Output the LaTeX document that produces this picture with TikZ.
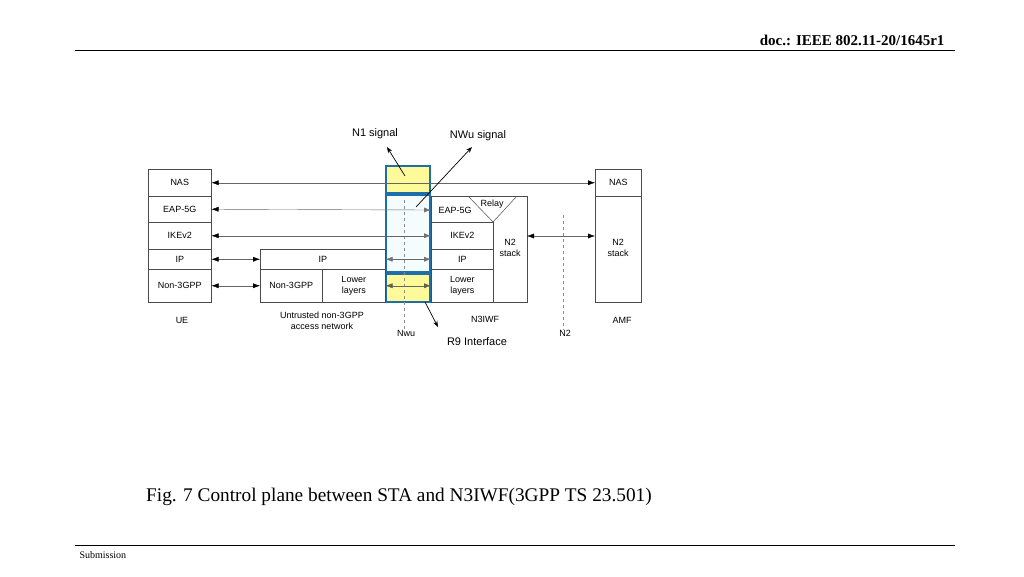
\documentclass[tikz,border=0pt]{standalone}
\usepackage{fontspec}
\setmainfont{Liberation Serif}
\newfontfamily\dg{Liberation Sans}
\usetikzlibrary{arrows.meta}
\begin{document}
\begin{tikzpicture}[x=1pt,y=-1pt,
 bx/.style={draw=black!70,line width=0.5pt,fill=white},
 lb/.style={font=\dg\fontsize{9}{10.5}\selectfont,align=center},
 ar/.style={line width=0.4pt,draw=black!60,{Latex[length=7pt,width=5pt,black]}-{Latex[length=7pt,width=5pt,black]}},
 ag/.style={line width=0.4pt,draw=black!60,{Latex[length=7pt,width=5pt,black]}-{Latex[length=7pt,width=5pt,black!55]}},
 gg/.style={line width=0.4pt,draw=black!60,{Latex[length=7pt,width=5pt,black!55]}-{Latex[length=7pt,width=5pt,black!55]}},
 pt/.style={line width=0.7pt,-{Stealth[length=6pt]}},
 blu/.style={draw={rgb,255:red,30;green,110;blue,170},line width=1.6pt}]
\useasboundingbox (0,0) rectangle (1024,576);
% header/footer
\node[anchor=east,font=\bfseries\fontsize{15}{17}\selectfont] (hd) at (948,40) {doc.: IEEE 802.11-20/1645r1};
\draw[line width=0.6pt] (75,50) -- (955,50);
\draw[line width=0.6pt] (75,545) -- (955,545);
\node[anchor=west,font=\fontsize{10}{12}\selectfont] (sub) at (76,555) {Submission};
\node[font=\fontsize{19.3}{22}\selectfont] (cap) at (399,497) {Fig. 7 Control plane between STA and N3IWF(3GPP TS 23.501)};
% blue boxes
\draw[blu,fill=yellow!40] (386,166) rectangle (430,193);
\draw[blu,fill=cyan!4] (386,195) rectangle (430,272);
\draw[blu,fill=yellow!40] (386,274) rectangle (430,302);
% dashed
\draw[dashed,draw=black!45,line width=0.4pt] (404,200) -- (404,330);
\draw[dashed,draw=black!45,line width=0.4pt] (563,215) -- (563,330);
% UE
\node[bx,lb,minimum width=63,minimum height=27,anchor=north west] (unas) at (148,169) {NAS};
\node[bx,lb,minimum width=63,minimum height=26,anchor=north west] (ueap) at (148,196) {EAP-5G};
\node[bx,lb,minimum width=63,minimum height=27,anchor=north west] (uike) at (148,222) {IKEv2};
\node[bx,lb,minimum width=63,minimum height=20,anchor=north west] (uip) at (148,249) {IP};
\node[bx,lb,minimum width=63,minimum height=33,anchor=north west] (un3) at (148,269) {Non-3GPP};
% access network
\node[bx,lb,minimum width=125,minimum height=20,anchor=north west] (aip) at (260,249) {IP};
\node[bx,lb,minimum width=62,minimum height=33,anchor=north west] (an3) at (260,269) {Non-3GPP};
\node[bx,lb,minimum width=63,minimum height=33,anchor=north west] (alow) at (322,269) {Lower\\layers};
% N3IWF
\node[bx,minimum width=96,minimum height=106,anchor=north west] (nbox) at (431,196) {};
\node[bx,lb,minimum width=62,minimum height=27,anchor=north west] (nike) at (431,222) {IKEv2};
\node[bx,lb,minimum width=62,minimum height=20,anchor=north west] (nip) at (431,249) {IP};
\node[bx,lb,minimum width=62,minimum height=33,anchor=north west] (nlow) at (431,269) {Lower\\layers};
\draw[draw=black!70,line width=0.5pt] (468,196) -- (493,222) -- (517,196);
\node[lb] (relay) at (492,204) {Relay};
\node[lb] (neap) at (455,210) {EAP-5G};
\node[lb] (nn2) at (510,248) {N2\\stack};
\coordinate (nr) at (527,236);
% AMF
\node[bx,lb,minimum width=46,minimum height=27,anchor=north west] (mnas) at (595,169) {NAS};
\node[bx,minimum width=46,minimum height=106,anchor=north west] (mbox) at (595,196) {};
\node[lb] (mn2) at (618,248) {N2\\stack};
% labels
\node[lb] (lue) at (182,320) {UE};
\node[lb] (lan) at (322,321) {Untrusted non-3GPP\\access network};
\node[lb] (ln3) at (485,319) {N3IWF};
\node[lb] (lamf) at (622,320) {AMF};
\node[lb] (lnwu) at (406,333) {Nwu};
\node[lb] (ln2) at (565,333) {N2};
\node[font=\dg\fontsize{11}{12}\selectfont] (r9) at (477,342) {R9 Interface};
\node[font=\dg\fontsize{11}{12}\selectfont] (n1s) at (375,134) {N1 signal};
\node[font=\dg\fontsize{11}{12}\selectfont] (nws) at (478,136) {NWu signal};
% connectors
\draw[ar] (unas.east) -- (mnas.west);
\draw[ag] (ueap.east) -- (431,210);
\draw[ag] (uike.east) -- (nike.west);
\draw[ar] (uip.east) -- (aip.west);
\draw[gg] (aip.east) -- (nip.west);
\draw[ar] (un3.east) -- (an3.west);
\draw[line width=0.4pt,draw=black!60,{Latex[length=7pt,width=5pt,black!70!yellow]}-{Latex[length=7pt,width=5pt,black!70!yellow]}] (alow.east) -- (nlow.west);
\draw[ar] (nr) -- (mbox.west |- nr);
\draw[pt] (405,176) -- (387,147);
\draw[pt] (416,207) -- (472,147);
\draw[pt] (425,302) -- (438,327);
\end{tikzpicture}
\end{document}
